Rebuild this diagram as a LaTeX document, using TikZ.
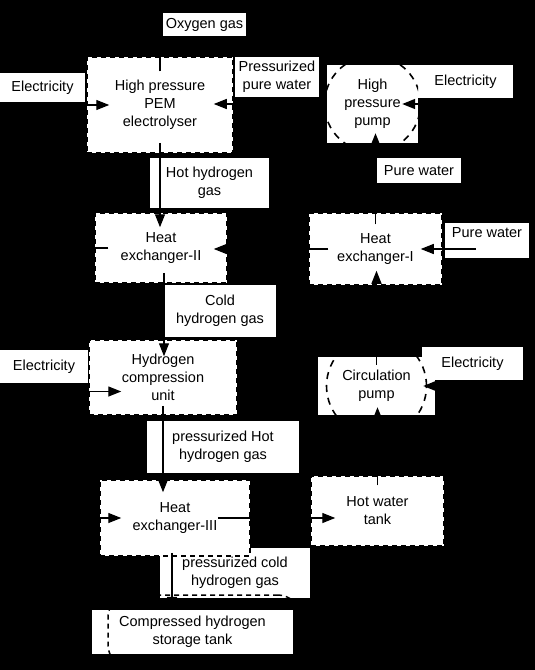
\documentclass[tikz,border=0pt]{standalone}
\usepackage{fontspec}
\setmainfont{Liberation Sans}
\usetikzlibrary{arrows.meta}
\newcommand{\power}{Electricity}
\newcommand{\water}{Pure water}
\tikzset{
  tag/.style={fill=white, inner sep=0pt, align=center},
  unit/.style={fill=white, draw=black, line width=1.5pt, dash pattern=on 5pt off 4pt, inner sep=0pt, align=center},
  pump/.style={fill=white, inner sep=0pt, align=center,
    path picture={\draw[black, line width=1.6pt, dash pattern=on 7pt off 6pt] (path picture bounding box.center) circle[radius=#1];}},
  shell/.style={draw=black, line width=1.5pt, dash pattern=on 5pt off 4pt, rounded corners=22pt, inner sep=0pt},
  flow/.style={line width=1.4pt, -{Triangle[length=13pt,width=10pt]}},
}

\begin{document}
\begin{tikzpicture}[x=1pt, y=-1pt, font=\fontsize{14.5}{18}\selectfont]
\useasboundingbox (0,0) rectangle (535,670);
\fill[black] (0,0) rectangle (535,670);

\node[tag, minimum width=83,  minimum height=23] (oxy)   at (204.5, 24.5) {Oxygen gas};
\node[tag, minimum width=85,  minimum height=29] (elecA) at ( 42.5, 87.5) {\power};
\node[tag, minimum width=84,  minimum height=40] (ppw)   at (277  , 77  ) {Pressurized\\pure water};
\node[tag, minimum width=95,  minimum height=33] (elecB) at (465.5, 81.5) {\power};
\node[tag, minimum width=119, minimum height=50] (hhg)   at (209.5,183  ) {Hot hydrogen\\gas};
\node[tag, minimum width=84,  minimum height=25] (pw1)   at (419  ,170.5) {\water};
\node[tag, minimum width=84,  minimum height=35, text height=10pt, text depth=17pt] (pw2) at (487,240.5) {\water};
\node[tag, minimum width=112, minimum height=52] (chg)   at (220  ,311  ) {Cold\\hydrogen gas};
\node[tag, minimum width=88,  minimum height=33] (elecC) at ( 44  ,366.5) {\power};
\node[tag, minimum width=101, minimum height=33] (elecD) at (472.5,363.5) {\power};
\node[tag, minimum width=152, minimum height=52] (phg)   at (223  ,447  ) {pressurized Hot\\hydrogen gas};
\node[tag, minimum width=150, minimum height=50] (pcg)   at (235  ,573  ) {pressurized cold\\hydrogen gas};
\node[tag, minimum width=201, minimum height=44] (tank)  at (192.5,632  ) {Compressed hydrogen\\storage tank};
\node[shell, minimum width=192, minimum height=72] (tankshell) at (204,631) {};

\node[unit, minimum width=146, minimum height=96] (pem)  at (160  ,105  ) {High pressure\\PEM\\electrolyser};
\node[pump=48pt, minimum width=91, minimum height=78] (hpp) at (372.5,104) {High\\pressure\\pump};
\node[unit, minimum width=132, minimum height=70] (hx2)  at (161  ,248  ) {Heat\\exchanger-II};
\node[unit, minimum width=133, minimum height=72] (hx1)  at (375.5,249  ) {Heat\\exchanger-I};
\node[unit, minimum width=150, minimum height=76] (hx3)  at (175  ,518  ) {Heat\\exchanger-III};
\node[unit, minimum width=133, minimum height=70] (hwt)  at (377.5,511  ) {Hot water\\tank};
\node[pump=50pt, minimum width=117, minimum height=58] (cp) at (376.5,386) {Circulation\\pump};

\draw[flow] ([xshift=14pt]hx2.west) -- ++(-18,0) |- ([xshift=22pt]hx3.west);

\node[unit, minimum width=148, minimum height=75] (comp) at (163  ,377.5) {Hydrogen\\compression\\unit};

\draw[flow] ([yshift=-15pt]pem.north) -- (pem.north |- oxy.south);
\draw[flow] (elecA.south) |- ([xshift=23pt]pem.west);
\draw[flow] (hpp.west) -- ([xshift=-20pt]pem.east |- hpp.west);
\draw[flow] (elecB.south) |- ([xshift=-16pt]hpp.east);
\draw[flow] ([yshift=-12pt]hx1.north) -- ([yshift=10pt]hpp.south -| hx1.north);
\draw[flow] ([xshift=-11pt]pw2.center |- hx1.east) -- ([xshift=-22pt]hx1.east);
\draw[flow] ([xshift=20pt]hx1.west) -- ([xshift=-14pt]hx2.east |- hx1.west);
\draw[flow] ([yshift=11pt]pem.south) -- ([yshift=-15pt]hx2.north -| pem.south);
\draw[flow] ([xshift=3pt,yshift=11pt]hx2.south) -- ([xshift=3pt,yshift=-17pt]comp.north -| hx2.south);
\draw[flow] (elecC.south) |- ([xshift=33pt,yshift=-14pt]comp.west);
\draw[flow] ([yshift=10pt]comp.south) -- ([yshift=-13pt]hx3.north -| comp.south);
\draw[flow] ([xshift=-33pt]hx3.east) -- ([xshift=25pt]hwt.west |- hx3.east);
\draw[flow] ([yshift=-10pt]hwt.north) -- ([yshift=8pt]cp.south -| hwt.north);
\draw[flow] ([yshift=-8pt]cp.north) -- ([yshift=15pt]hx1.south -| cp.north);
\draw[flow] (elecD.south) |- ([xshift=-12pt]cp.east);
\draw[flow] ([xshift=-3pt,yshift=4pt]hx3.south) -- ([xshift=-3pt]hx3.south |- tank.north);
\end{tikzpicture}
\end{document}
